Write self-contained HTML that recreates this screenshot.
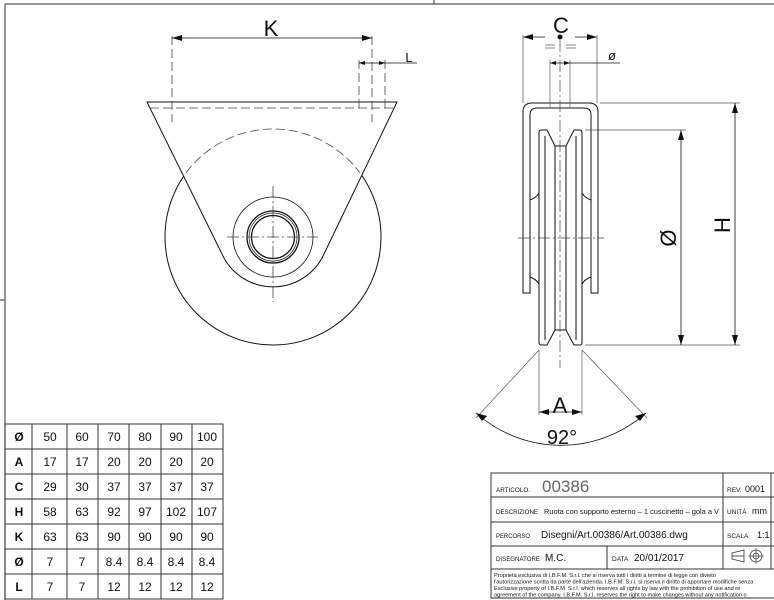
<!DOCTYPE html>
<html><head><meta charset="utf-8"><style>
html,body{margin:0;padding:0;background:#fff}
svg{display:block}
text{font-family:"Liberation Sans",Arial,sans-serif;fill:#111}
</style></head><body>
<svg width="774" height="600" viewBox="0 0 774 600" xmlns="http://www.w3.org/2000/svg">
<defs>
<marker id="ar" markerWidth="10" markerHeight="6" refX="10" refY="3" orient="auto" markerUnits="userSpaceOnUse"><path d="M0,0 L10,3 L0,6 Z" fill="#111"/></marker>
<marker id="as" markerWidth="6" markerHeight="4" refX="6" refY="2" orient="auto" markerUnits="userSpaceOnUse"><path d="M0,0 L6,2 L0,4 Z" fill="#111"/></marker>
</defs>
<g stroke="#555" stroke-width="1.2" fill="none">
<line x1="5" y1="4" x2="774" y2="4"/>
<line x1="5" y1="4" x2="5" y2="600"/>
<line x1="434" y1="0" x2="434" y2="4"/>
<line x1="0" y1="300" x2="5" y2="300"/>
</g>
<g fill="none" stroke="#111" stroke-width="1">
<circle cx="273" cy="237" r="108"/>
<path d="M147,102 L397,102 L324,254 A56 56 0 0 1 222,254 Z" fill="#fff"/>
<circle cx="273" cy="237" r="40" stroke-width="0.8"/>
<circle cx="273" cy="237" r="26" stroke-width="1.3"/>
<circle cx="273" cy="237" r="24" stroke-width="0.7"/>
<circle cx="273" cy="237" r="21.5" stroke-width="1.3"/>
</g>
<g fill="none" stroke="#444" stroke-width="0.8" stroke-dasharray="9,4">
<path d="M186,173 A108 108 0 0 1 360,173"/>
<line x1="150" y1="108" x2="395" y2="108"/>
<line x1="172" y1="36" x2="172" y2="122"/>
<line x1="372" y1="36" x2="372" y2="122"/>
<line x1="359" y1="60" x2="359" y2="108"/>
<line x1="385" y1="60" x2="385" y2="108"/>
<line x1="273" y1="186" x2="273" y2="302" stroke-dasharray="12,3,2,3"/>
<line x1="227" y1="237" x2="318" y2="237" stroke-dasharray="12,3,2,3"/>
</g>
<g stroke="#111" stroke-width="0.8" fill="none">
<line x1="186" y1="38" x2="358" y2="38"/>
<line x1="186" y1="38" x2="172" y2="38" marker-end="url(#ar)"/>
<line x1="358" y1="38" x2="372" y2="38" marker-end="url(#ar)"/>
<line x1="372" y1="63" x2="359" y2="63" marker-end="url(#as)"/>
<line x1="372" y1="63" x2="385" y2="63" marker-end="url(#as)"/>
<line x1="385" y1="63" x2="417" y2="63"/>
</g>
<text x="271" y="36" font-size="22" text-anchor="middle">K</text>
<text x="409" y="62" font-size="13" text-anchor="middle">L</text>
<g fill="none" stroke="#111" stroke-width="1">
<path d="M523,293 L523,112 Q523,103 532,103 L589,103 Q598,103 598,112 L598,293 L591,293 L591,115 Q591,108 584,108 L537,108 Q530,108 530,115 L530,293 Z"/>
<path d="M541,130 L547,130 L555,146 L566,146 L574,130 L580,130 Q582,130 582,133 L582,342 Q582,345 580,345 L574,345 L566,330 L555,330 L547,345 L541,345 Q539,345 539,342 L539,133 Q539,130 541,130 Z" fill="#fff"/>
<line x1="545" y1="136" x2="545" y2="340"/>
<line x1="576" y1="136" x2="576" y2="340"/>
<line x1="555" y1="146" x2="555" y2="330"/>
<line x1="566" y1="146" x2="566" y2="330"/>
<path d="M530,200 Q536,198 539,193"/><path d="M591,200 Q585,198 582,193"/>
<path d="M530,277 Q536,279 539,284"/><path d="M591,277 Q585,279 582,284"/>
</g>
<g fill="none" stroke="#444" stroke-width="0.7" stroke-dasharray="12,3,2,3">
<line x1="560" y1="40" x2="560" y2="368"/>
<line x1="518" y1="238" x2="604" y2="238"/>
</g>
<g fill="none" stroke="#555" stroke-width="0.7">
<line x1="523" y1="35" x2="523" y2="103"/>
<line x1="597" y1="35" x2="597" y2="103"/>
<line x1="550" y1="60" x2="550" y2="108"/>
<line x1="570" y1="60" x2="570" y2="108"/>
<line x1="545" y1="45" x2="555" y2="45"/><line x1="566" y1="45" x2="576" y2="45"/>
<line x1="545" y1="48" x2="555" y2="48"/><line x1="566" y1="48" x2="576" y2="48"/>
<line x1="585" y1="130" x2="686" y2="130"/>
<line x1="585" y1="345" x2="740" y2="345"/>
<line x1="600" y1="103" x2="740" y2="103"/>
<line x1="539" y1="350" x2="539" y2="415"/>
<line x1="582" y1="350" x2="582" y2="415"/>
<line x1="539" y1="350" x2="476" y2="418"/>
<line x1="582" y1="350" x2="647" y2="418"/>
</g>
<g stroke="#111" stroke-width="0.8" fill="none">
<line x1="545" y1="37" x2="523" y2="37" marker-end="url(#ar)"/>
<line x1="575" y1="37" x2="597" y2="37" marker-end="url(#ar)"/>
<line x1="560" y1="63" x2="550" y2="63" marker-end="url(#as)"/>
<line x1="560" y1="63" x2="570" y2="63" marker-end="url(#as)"/>
<line x1="570" y1="63" x2="620" y2="63"/>
<line x1="681" y1="238" x2="681" y2="130" marker-end="url(#ar)"/>
<line x1="681" y1="238" x2="681" y2="345" marker-end="url(#ar)"/>
<line x1="735" y1="224" x2="735" y2="103" marker-end="url(#ar)"/>
<line x1="735" y1="224" x2="735" y2="345" marker-end="url(#ar)"/>
<line x1="560" y1="412" x2="539" y2="412" marker-end="url(#ar)"/>
<line x1="560" y1="412" x2="582" y2="412" marker-end="url(#ar)"/>
<path d="M476,413 A128 128 0 0 0 646,413"/>
</g>
<path d="M476,413 l11,3 l-5,5 z" fill="#111"/>
<path d="M646,413 l-11,3 l5,5 z" fill="#111"/>
<circle cx="560" cy="37" r="2.5" fill="#111"/>
<text x="561" y="33" font-size="22" text-anchor="middle">C</text>
<text x="612" y="60" font-size="13" text-anchor="middle">ø</text>
<text x="560" y="413" font-size="22" text-anchor="middle">A</text>
<text x="562" y="444" font-size="20" text-anchor="middle">92°</text>
<text transform="translate(676,238) rotate(-90)" font-size="22" text-anchor="middle">Ø</text>
<text transform="translate(730,225) rotate(-90)" font-size="22" text-anchor="middle">H</text>
<g stroke="#333" stroke-width="1" fill="none">
<rect x="5" y="424" width="218" height="175"/>
<line x1="5" y1="449" x2="223" y2="449"/><line x1="5" y1="474" x2="223" y2="474"/>
<line x1="5" y1="499" x2="223" y2="499"/><line x1="5" y1="524" x2="223" y2="524"/>
<line x1="5" y1="549" x2="223" y2="549"/><line x1="5" y1="574" x2="223" y2="574"/>
<line x1="32" y1="424" x2="32" y2="599"/><line x1="67" y1="424" x2="67" y2="599"/>
<line x1="98" y1="424" x2="98" y2="599"/><line x1="129" y1="424" x2="129" y2="599"/>
<line x1="161" y1="424" x2="161" y2="599"/><line x1="192" y1="424" x2="192" y2="599"/>
</g>
<g font-size="12" text-anchor="middle">
<g font-weight="bold"><text x="19" y="441">Ø</text><text x="19" y="466">A</text><text x="19" y="491">C</text><text x="19" y="516">H</text><text x="19" y="541">K</text><text x="19" y="566">Ø</text><text x="19" y="591">L</text></g>
<text x="50" y="441">50</text><text x="82" y="441">60</text><text x="114" y="441">70</text><text x="145" y="441">80</text><text x="176" y="441">90</text><text x="207" y="441">100</text>
<text x="50" y="466">17</text><text x="82" y="466">17</text><text x="114" y="466">20</text><text x="145" y="466">20</text><text x="176" y="466">20</text><text x="207" y="466">20</text>
<text x="50" y="491">29</text><text x="82" y="491">30</text><text x="114" y="491">37</text><text x="145" y="491">37</text><text x="176" y="491">37</text><text x="207" y="491">37</text>
<text x="50" y="516">58</text><text x="82" y="516">63</text><text x="114" y="516">92</text><text x="145" y="516">97</text><text x="176" y="516">102</text><text x="207" y="516">107</text>
<text x="50" y="541">63</text><text x="82" y="541">63</text><text x="114" y="541">90</text><text x="145" y="541">90</text><text x="176" y="541">90</text><text x="207" y="541">90</text>
<text x="50" y="566">7</text><text x="82" y="566">7</text><text x="114" y="566">8.4</text><text x="145" y="566">8.4</text><text x="176" y="566">8.4</text><text x="207" y="566">8.4</text>
<text x="50" y="591">7</text><text x="82" y="591">7</text><text x="114" y="591">12</text><text x="145" y="591">12</text><text x="176" y="591">12</text><text x="207" y="591">12</text>
</g>
<g stroke="#333" stroke-width="1" fill="none">
<rect x="491" y="473" width="290" height="125"/>
<line x1="491" y1="497" x2="774" y2="497"/><line x1="491" y1="522" x2="774" y2="522"/>
<line x1="491" y1="546" x2="774" y2="546"/><line x1="491" y1="569" x2="774" y2="569"/>
<line x1="723" y1="473" x2="723" y2="569"/><line x1="771" y1="473" x2="771" y2="569"/>
<line x1="607" y1="546" x2="607" y2="569"/>
<path d="M732,553 L744,550 L744,562 L732,559 Z" stroke-width="0.8"/>
<line x1="732" y1="556" x2="744" y2="556" stroke-width="0.8"/>
<circle cx="756" cy="556" r="6" stroke-width="0.8"/><circle cx="756" cy="556" r="3" stroke-width="0.8"/>
<line x1="748" y1="556" x2="764" y2="556" stroke-width="0.6"/><line x1="756" y1="548" x2="756" y2="564" stroke-width="0.6"/>
</g>
<g font-size="6.5">
<text x="496" y="492" textLength="34" lengthAdjust="spacingAndGlyphs">ARTICOLO.</text>
<text x="542" y="492" font-size="17" style="fill:#666">00386</text>
<text x="727" y="492">REV.</text><text x="745" y="492" font-size="9">0001</text>
<text x="496" y="514" textLength="42" lengthAdjust="spacingAndGlyphs">DESCRIZIONE</text>
<text x="544" y="514" font-size="7.2" textLength="175" lengthAdjust="spacingAndGlyphs">Ruota con supporto esterno – 1 cuscinetto – gola a V</text>
<text x="727" y="514">UNITÀ</text><text x="752" y="514" font-size="9">mm</text>
<text x="496" y="538" textLength="34" lengthAdjust="spacingAndGlyphs">PERCORSO</text>
<text x="541" y="538" font-size="10">Disegni/Art.00386/Art.00386.dwg</text>
<text x="727" y="538">SCALA</text><text x="757" y="538" font-size="9">1:1</text>
<text x="496" y="561" textLength="44" lengthAdjust="spacingAndGlyphs">DISEGNATORE</text><text x="545" y="561" font-size="10">M.C.</text>
<text x="612" y="561">DATA</text><text x="634" y="561" font-size="10">20/01/2017</text>
</g>
<g font-size="5.6">
<text x="494" y="577">Proprietà esclusiva di I.B.F.M. S.r.l. che si riserva tutti i diritti a termine di legge con divieto</text>
<text x="494" y="583.5">l'autorizzazione scritta da parte dell'azienda. I.B.F.M. S.r.l. si riserva il diritto di apportare modifiche senza</text>
<text x="494" y="590">Exclusive property of I.B.F.M. S.r.l. which reserves all rights by law with the prohibition of use and re</text>
<text x="494" y="596.5">agreement of the company. I.B.F.M. S.r.l. reserves the right to make changes without any notification o</text>
</g>
</svg>
</body></html>
